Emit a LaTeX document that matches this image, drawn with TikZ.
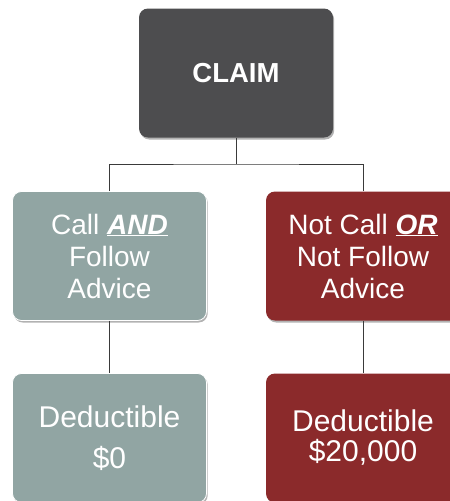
\documentclass[tikz,border=0pt]{standalone}
\usepackage{fontspec}
\setmainfont{Liberation Sans}
\usetikzlibrary{calc,positioning,shadows}

\definecolor{claimgray}{HTML}{4D4D4F}
\definecolor{okgray}{HTML}{91A5A3}
\definecolor{badred}{HTML}{8B2A2B}
\definecolor{linegray}{HTML}{3A3A3A}

\tikzset{
	box/.style={rectangle,rounded corners=9pt,text=white,align=center,
		minimum width=194pt,minimum height=129pt,
		drop shadow={shadow xshift=1.2pt,shadow yshift=-2pt,opacity=.3,fill=black}},
	okbox/.style={box,fill=okgray,draw=white,line width=.8pt},
	badbox/.style={box,fill=badred},
	link/.style={draw=linegray,line width=1pt}
}

\begin{document}
\begin{tikzpicture}[x=1pt,y=-1pt]%%%claim tree
\clip (0,0) rectangle (450,501);
\fill[white] (0,0) rectangle (450,501);

\node[box,fill=claimgray,font=\fontsize{27.5}{30}\selectfont\bfseries] (claim) at (236,73) {CLAIM};
\coordinate (split) at (236,164);

\node[okbox,font=\fontsize{28}{32}\selectfont] (call) at (109.5,256) {Call \underline{\textbf{\textit{AND}}}\\Follow\\Advice};
\node[badbox,font=\fontsize{28}{32}\selectfont] (nocall) at (363,256) {Not Call \underline{\textbf{\textit{OR}}}\\Not Follow\\Advice};

\node[okbox,font=\fontsize{30}{41}\selectfont] (zero) at (109.5,438) {Deductible\\\$0};
\node[badbox,font=\fontsize{30}{30}\selectfont] (full) at (363,438) {Deductible\\\$20,000};

\draw[link] (claim.south) -- (split);
\draw[link] (call.north) |- (split) -| (nocall.north);
\draw[link] (call.south) -- (zero.north);
\draw[link] (nocall.south) -- (full.north);

\end{tikzpicture}
\end{document}
